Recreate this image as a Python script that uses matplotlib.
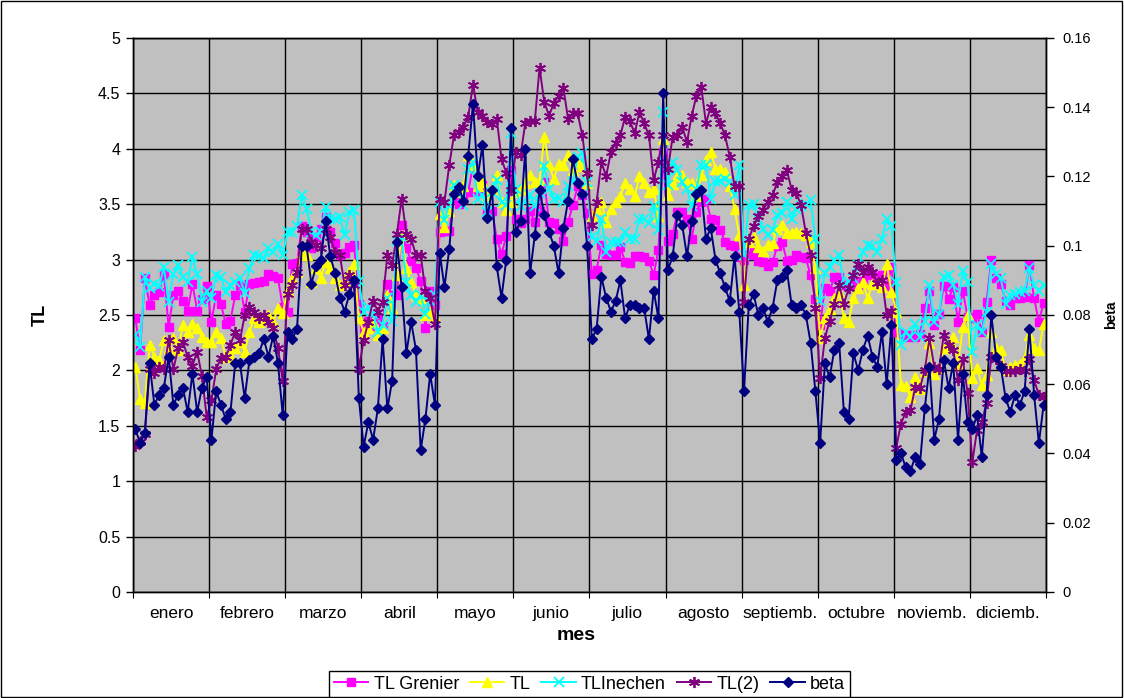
import numpy as np
import matplotlib.pyplot as plt
from matplotlib.patches import Rectangle

plt.rcParams['font.family'] = ['Liberation Sans', 'DejaVu Sans']

months = ['enero', 'febrero', 'marzo', 'abril', 'mayo', 'junio', 'julio',
          'agosto', 'septiemb.', 'octubre', 'noviemb.', 'diciemb.']

# TL Grenier (16 readings per month)
tl_grenier = [
    2.47, 2.18, 2.83, 2.59, 2.68, 2.71, 2.87, 2.39, 2.68, 2.72, 2.63, 2.54, 2.78, 2.54, 2.64, 2.76,
    2.44, 2.68, 2.60, 2.42, 2.45, 2.68, 2.77, 2.53, 2.78, 2.79, 2.80, 2.81, 2.87, 2.85, 2.83, 2.57,
    2.53, 2.96, 2.97, 3.30, 3.25, 3.10, 3.20, 3.28, 3.38, 3.25, 3.15, 3.04, 3.06, 3.11, 3.13, 2.60,
    2.38, 2.45, 2.40, 2.46, 2.40, 2.78, 2.68, 2.68, 3.31, 3.10, 2.99, 2.92, 2.81, 2.38, 2.72, 2.59,
    3.25, 3.26, 3.26, 3.55, 3.50, 3.55, 3.61, 3.85, 3.61, 3.67, 3.42, 3.44, 3.19, 3.05, 3.21, 3.81,
    3.37, 3.33, 3.37, 3.44, 3.34, 3.44, 3.70, 3.34, 3.33, 3.28, 3.17, 3.34, 3.49, 3.66, 3.58, 3.42,
    2.87, 2.91, 3.13, 3.05, 3.04, 3.04, 3.11, 2.98, 2.97, 3.03, 3.03, 3.02, 2.99, 2.86, 3.09, 3.97,
    3.17, 3.23, 3.43, 3.43, 3.37, 3.19, 3.43, 3.52, 3.55, 3.37, 3.36, 3.27, 3.16, 3.13, 3.12, 3.02,
    3.00, 3.04, 3.07, 2.99, 2.98, 2.94, 2.98, 3.12, 3.16, 2.99, 3.00, 3.04, 3.02, 3.01, 2.86, 2.64,
    2.41, 2.74, 2.72, 2.84, 2.84, 2.77, 2.77, 2.80, 2.77, 2.81, 2.89, 2.86, 2.84, 2.86, 2.76, 2.93,
    2.35, 2.33, 2.30, 2.32, 2.30, 2.33, 2.56, 2.72, 2.41, 2.51, 2.76, 2.64, 2.75, 2.44, 2.72, 2.48,
    2.47, 2.51, 2.35, 2.62, 3.00, 2.83, 2.78, 2.63, 2.59, 2.65, 2.65, 2.66, 2.95, 2.65, 2.44, 2.61,
]

# TL
tl = [
    2.03, 1.74, 1.71, 2.23, 2.12, 2.09, 2.27, 2.20, 2.29, 2.18, 2.41, 2.35, 2.42, 2.38, 2.30, 2.26,
    2.26, 2.35, 2.29, 2.12, 2.14, 2.20, 2.26, 2.17, 2.35, 2.47, 2.44, 2.47, 2.50, 2.44, 2.56, 2.52,
    2.72, 2.83, 2.89, 3.07, 3.04, 2.80, 2.92, 2.83, 2.98, 2.92, 2.83, 2.77, 2.80, 2.89, 2.96, 2.47,
    2.35, 2.38, 2.44, 2.32, 2.38, 2.68, 2.56, 2.86, 3.22, 2.92, 2.80, 2.68, 2.65, 2.50, 2.53, 2.48,
    3.41, 3.29, 3.44, 3.67, 3.61, 3.66, 3.94, 3.85, 3.66, 3.70, 3.58, 3.64, 3.76, 3.52, 3.45, 3.52,
    3.61, 3.64, 3.69, 3.76, 3.70, 3.72, 4.11, 3.85, 3.73, 3.86, 3.85, 3.94, 3.81, 3.88, 3.84, 3.69,
    3.39, 3.46, 3.52, 3.34, 3.46, 3.52, 3.57, 3.69, 3.64, 3.57, 3.75, 3.69, 3.61, 3.64, 3.39, 4.09,
    3.58, 3.68, 3.75, 3.76, 3.70, 3.69, 3.57, 3.76, 3.90, 3.97, 3.82, 3.82, 3.79, 3.66, 3.46, 3.22,
    2.77, 3.16, 3.20, 3.11, 3.08, 3.13, 3.15, 3.28, 3.31, 3.24, 3.24, 3.25, 3.24, 3.22, 3.16, 2.92,
    2.29, 2.47, 2.55, 2.65, 2.71, 2.47, 2.44, 2.65, 2.74, 2.80, 2.65, 2.78, 2.80, 2.75, 2.96, 2.71,
    2.53, 1.87, 1.86, 1.76, 1.94, 1.83, 1.99, 2.25, 1.97, 2.02, 2.20, 2.23, 2.30, 2.06, 2.39, 2.50,
    1.93, 2.02, 1.87, 1.96, 2.35, 2.20, 2.18, 2.00, 2.03, 2.05, 2.06, 2.11, 2.32, 2.20, 2.18, 2.42,
]

# TLInechen
tl_inechen = [
    2.32, 2.21, 2.84, 2.74, 2.78, 2.76, 2.93, 2.62, 2.87, 2.95, 2.84, 2.80, 3.02, 2.87, 2.62, 2.72,
    2.65, 2.86, 2.84, 2.71, 2.77, 2.80, 2.83, 2.70, 2.92, 3.04, 3.03, 3.01, 3.10, 3.07, 3.14, 3.04,
    3.25, 3.25, 3.30, 3.58, 3.46, 3.25, 3.22, 3.25, 3.47, 3.37, 3.37, 3.38, 3.22, 3.43, 3.45, 2.81,
    2.53, 2.57, 2.51, 2.35, 2.41, 2.65, 2.45, 3.17, 3.20, 2.80, 2.68, 2.62, 2.68, 2.51, 2.63, 2.68,
    3.52, 3.36, 3.49, 3.67, 3.61, 3.49, 3.82, 3.88, 3.55, 3.58, 3.43, 3.61, 3.72, 3.52, 3.49, 4.14,
    3.64, 3.48, 3.52, 3.58, 3.48, 3.60, 3.84, 3.64, 3.55, 3.56, 3.52, 3.66, 3.70, 3.93, 3.96, 3.70,
    3.20, 3.17, 3.37, 3.07, 3.16, 3.16, 3.16, 3.25, 3.19, 3.19, 3.37, 3.37, 3.33, 3.48, 3.27, 4.33,
    3.67, 3.88, 3.81, 3.70, 3.64, 3.48, 3.64, 3.85, 3.85, 3.55, 3.71, 3.71, 3.73, 3.70, 3.58, 3.85,
    3.04, 3.49, 3.50, 3.37, 3.28, 3.22, 3.27, 3.40, 3.42, 3.52, 3.37, 3.46, 3.48, 3.50, 3.54, 3.19,
    2.63, 2.88, 2.93, 3.00, 3.04, 2.77, 2.80, 2.83, 2.95, 3.07, 3.13, 3.12, 3.07, 3.19, 3.37, 3.30,
    2.80, 2.23, 2.35, 2.30, 2.42, 2.30, 2.45, 2.77, 2.44, 2.51, 2.84, 2.86, 2.77, 2.60, 2.90, 2.80,
    2.17, 2.41, 2.35, 2.53, 2.96, 2.87, 2.83, 2.60, 2.68, 2.69, 2.71, 2.72, 2.92, 2.77, 2.72, 2.77,
]

# TL(2)
tl2 = [
    1.32, 1.35, 1.43, 2.01, 1.98, 2.03, 2.01, 2.27, 2.01, 2.20, 2.26, 2.12, 2.04, 2.17, 1.95, 1.58,
    1.73, 2.01, 2.11, 2.12, 2.23, 2.35, 2.27, 2.50, 2.57, 2.53, 2.47, 2.50, 2.44, 2.38, 2.20, 1.90,
    2.69, 2.77, 2.89, 3.28, 3.28, 3.16, 3.13, 3.10, 3.28, 3.20, 3.07, 3.04, 2.77, 2.86, 2.77, 2.01,
    2.27, 2.44, 2.63, 2.53, 2.62, 3.04, 2.95, 3.23, 3.55, 3.23, 3.19, 3.04, 3.04, 2.72, 2.65, 2.42,
    3.55, 3.52, 3.85, 4.12, 4.15, 4.20, 4.29, 4.58, 4.33, 4.30, 4.24, 4.22, 4.27, 3.91, 3.78, 3.63,
    3.97, 3.94, 4.23, 4.25, 4.25, 4.73, 4.42, 4.30, 4.41, 4.48, 4.55, 4.27, 4.32, 4.32, 4.12, 3.78,
    3.31, 3.52, 3.88, 3.75, 3.97, 4.05, 4.12, 4.29, 4.25, 4.14, 4.33, 4.23, 4.12, 3.72, 3.88, 4.12,
    3.82, 4.11, 4.12, 4.20, 4.06, 4.30, 4.48, 4.56, 4.23, 4.38, 4.32, 4.23, 4.12, 3.93, 3.66, 3.66,
    2.62, 3.19, 3.30, 3.39, 3.45, 3.52, 3.58, 3.70, 3.75, 3.81, 3.63, 3.60, 3.49, 3.24, 3.04, 2.56,
    1.93, 2.29, 2.45, 2.60, 2.77, 2.60, 2.74, 2.86, 2.96, 2.89, 2.93, 2.89, 2.79, 2.82, 2.50, 2.54,
    1.30, 1.52, 1.62, 1.64, 1.85, 1.84, 2.00, 2.29, 2.03, 2.01, 2.32, 2.23, 2.18, 1.91, 2.10, 1.80,
    1.17, 1.46, 1.53, 1.71, 2.12, 2.10, 2.04, 1.99, 1.99, 1.99, 2.01, 1.99, 2.10, 1.91, 1.78, 1.76,
]

# beta (secondary axis)
beta = [
    0.047, 0.043, 0.046, 0.066, 0.054, 0.057, 0.059, 0.068, 0.054, 0.057, 0.059, 0.052, 0.063, 0.052, 0.059, 0.062,
    0.044, 0.058, 0.054, 0.050, 0.052, 0.066, 0.066, 0.056, 0.067, 0.068, 0.069, 0.073, 0.068, 0.074, 0.066, 0.051,
    0.075, 0.073, 0.076, 0.100, 0.100, 0.089, 0.094, 0.096, 0.107, 0.097, 0.092, 0.085, 0.081, 0.086, 0.090, 0.056,
    0.042, 0.049, 0.044, 0.053, 0.073, 0.053, 0.061, 0.101, 0.088, 0.069, 0.078, 0.070, 0.041, 0.050, 0.063, 0.054,
    0.098, 0.088, 0.099, 0.115, 0.117, 0.113, 0.126, 0.141, 0.120, 0.129, 0.108, 0.116, 0.094, 0.085, 0.096, 0.134,
    0.104, 0.107, 0.128, 0.092, 0.103, 0.116, 0.109, 0.104, 0.100, 0.092, 0.105, 0.113, 0.125, 0.118, 0.115, 0.100,
    0.073, 0.076, 0.091, 0.085, 0.081, 0.084, 0.090, 0.079, 0.083, 0.083, 0.082, 0.082, 0.073, 0.087, 0.079, 0.144,
    0.093, 0.097, 0.109, 0.106, 0.097, 0.107, 0.115, 0.116, 0.102, 0.105, 0.096, 0.092, 0.088, 0.084, 0.097, 0.081,
    0.058, 0.083, 0.086, 0.080, 0.082, 0.078, 0.082, 0.090, 0.091, 0.093, 0.083, 0.082, 0.083, 0.080, 0.072, 0.058,
    0.043, 0.066, 0.062, 0.070, 0.072, 0.052, 0.050, 0.069, 0.064, 0.070, 0.074, 0.068, 0.065, 0.075, 0.060, 0.077,
    0.038, 0.040, 0.036, 0.035, 0.039, 0.037, 0.053, 0.065, 0.044, 0.050, 0.067, 0.059, 0.066, 0.044, 0.063, 0.049,
    0.047, 0.051, 0.039, 0.057, 0.080, 0.068, 0.065, 0.056, 0.052, 0.057, 0.054, 0.058, 0.076, 0.057, 0.043, 0.054,
]

x = np.arange(len(tl_grenier))
per_month = len(x) // len(months)

fig = plt.figure(figsize=(11.24, 6.98), dpi=100)
# frame round the whole chart
fig.patches.append(Rectangle((0.001, 0.001), 0.997, 0.997, transform=fig.transFigure,
                             fill=False, edgecolor='black', linewidth=1))

ax = fig.add_axes([0.1183, 0.1519, 0.8123, 0.7937])
ax.set_facecolor('#c0c0c0')

ax.plot(x, tl_grenier, color='#ff00ff', marker='s', ms=6, lw=1.4, label='TL Grenier')
ax.plot(x, tl, color='#ffff00', marker='^', ms=7, lw=1.4, label='TL')
ax.plot(x, tl_inechen, color='#00ffff', marker='x', ms=7, mew=1.3, lw=1.4, label='TLInechen')
ax.plot(x, tl2, color='#800080', marker=(6, 2, 0), ms=8, mew=1.3, lw=1.4, label='TL(2)')

ax2 = ax.twinx()
ax2.plot(x, beta, color='#000080', marker='D', ms=5.5, lw=1.4, label='beta')

# left axis
ax.set_ylim(0, 5)
yt = np.arange(0, 5.01, 0.5)
ax.set_yticks(yt)
ax.set_yticklabels([f'{v:g}' for v in yt], fontsize=11.5)
ax.tick_params(axis='y', length=5, width=1, pad=4)
ax.set_ylabel('TL', fontsize=13, fontweight='bold')
ax.yaxis.set_label_coords(-0.092, 0.5)

# right axis
ax2.set_ylim(0, 0.16)
bt = np.arange(0, 0.161, 0.02)
ax2.set_yticks(bt)
ax2.set_yticklabels([f'{v:g}' for v in bt], fontsize=10.5)
ax2.tick_params(axis='y', length=6, width=1, pad=6)
ax2.set_ylabel('beta', fontsize=10, fontweight='bold')
ax2.yaxis.set_label_coords(1.064, 0.5)

# month axis
ax.set_xlim(-0.5, len(x) - 0.5)
bounds = np.arange(len(months) + 1) * per_month - 0.5
ax.set_xticks(bounds)
ax.set_xticklabels([])
ax.set_xticks(bounds[:-1] + per_month / 2, minor=True)
ax.set_xticklabels(months, minor=True, fontsize=12.5)
ax.tick_params(axis='x', which='major', length=4)
ax.tick_params(axis='x', which='minor', length=0, pad=10)
ax.set_xlabel('mes', fontsize=14, fontweight='bold')
ax.xaxis.set_label_coords(0.485, -0.064)

ax.grid(True, which='major', color='black', linewidth=1)
ax.set_axisbelow(True)
for a in (ax, ax2):
    for s in a.spines.values():
        s.set_color('black')
        s.set_linewidth(1)

handles = ax.get_legend_handles_labels()[0] + ax2.get_legend_handles_labels()[0]
labels = [h.get_label() for h in handles]
leg = fig.legend(handles, labels, loc='lower center', bbox_to_anchor=(0.5245, -0.004),
                 ncol=5, frameon=True, fancybox=False, edgecolor='black', framealpha=1,
                 fontsize=13, handlelength=1.9, handletextpad=0.3, columnspacing=0.6,
                 borderpad=0.25, borderaxespad=0.2)
leg.get_frame().set_linewidth(1)

fig.savefig('out.png', dpi=100)
